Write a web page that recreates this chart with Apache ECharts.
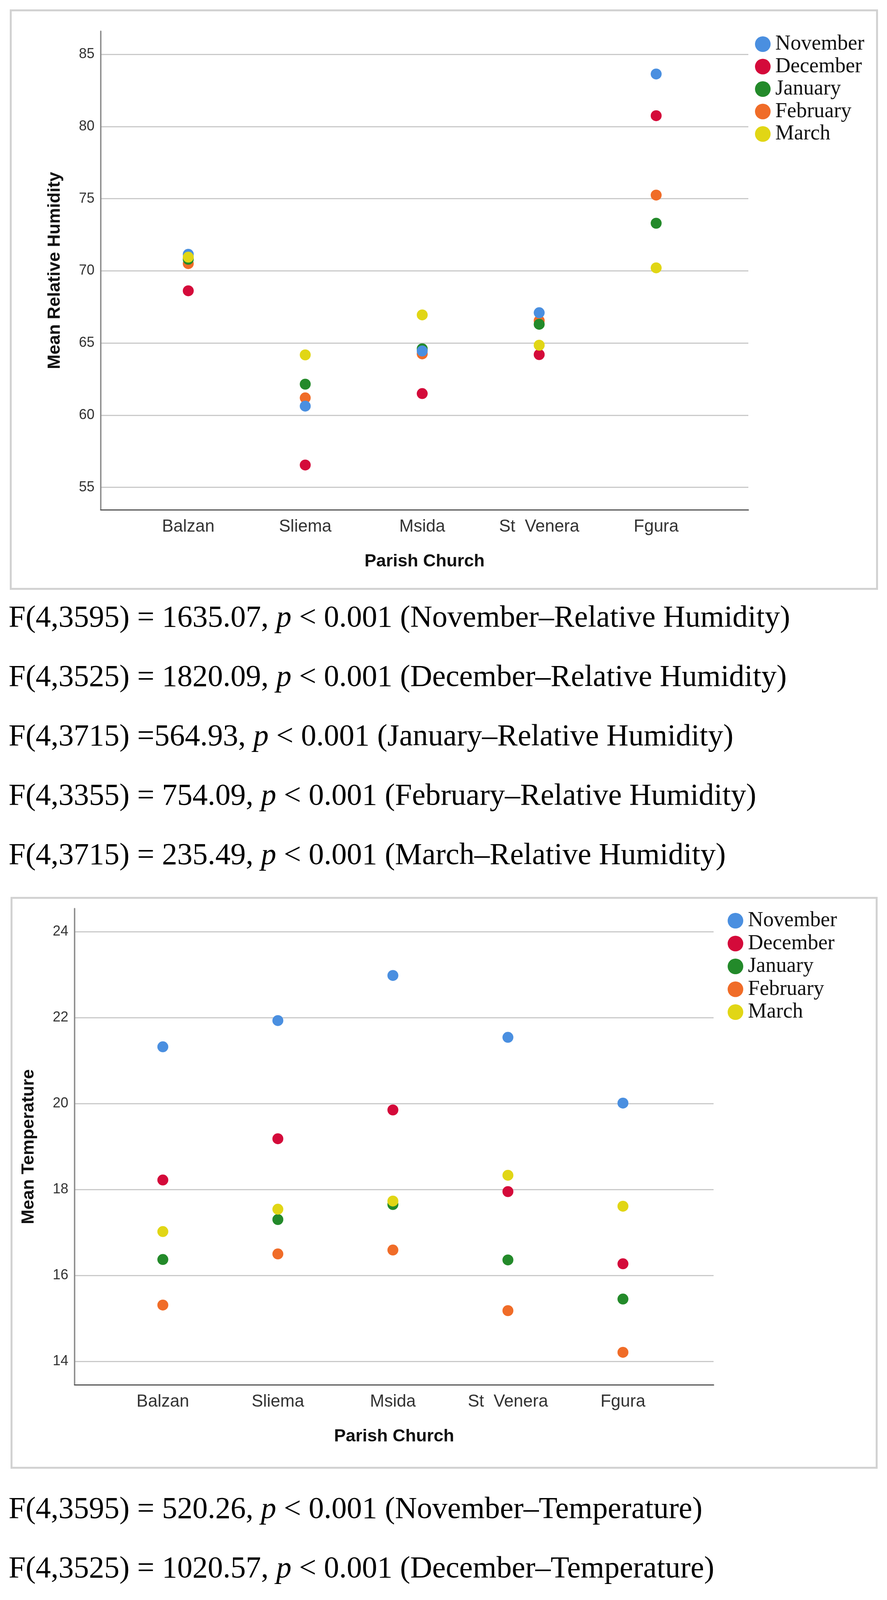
<!DOCTYPE html>
<html>
<head>
<meta charset="utf-8">
<script src="https://cdn.jsdelivr.net/npm/echarts@6/dist/echarts.min.js"></script>
<style>
  html, body { margin: 0; padding: 0; background: #ffffff; }
  body { width: 2271px; height: 4530px; position: relative; overflow: hidden; }
  #chart { position: absolute; left: 0; top: 0; width: 2271px; height: 4530px; }
  .stat { position: absolute; left: 22px; font-family: 'Liberation Serif', serif; font-size: 78px;
          line-height: 90px; color: #000; white-space: nowrap; }
</style>
</head>
<body>
<div id="chart"></div>
<div id="stats"></div>
<script>
// ---------- data ----------
const categories = ['Balzan', 'Sliema', 'Msida', 'St  Venera', 'Fgura'];
const months = ['November', 'December', 'January', 'February', 'March'];

// Mean Relative Humidity (Balzan, Sliema, Msida, St Venera, Fgura)
const humNovember = [71.15, 60.63, 64.45, 67.10, 83.64];
const humDecember = [68.62, 56.55, 61.50, 64.20, 80.75];
const humJanuary  = [70.80, 62.15, 64.60, 66.30, 73.30];
const humFebruary = [70.50, 61.20, 64.25, 66.55, 75.25];
const humMarch    = [70.95, 64.18, 66.95, 64.85, 70.21];

// Mean Temperature (Balzan, Sliema, Msida, St Venera, Fgura)
const tempNovember = [21.32, 21.93, 22.98, 21.54, 20.01];
const tempDecember = [18.22, 19.18, 19.85, 17.95, 16.27];
const tempJanuary  = [16.37, 17.30, 17.65, 16.36, 15.45];
const tempFebruary = [15.31, 16.50, 16.59, 15.18, 14.21];
const tempMarch    = [17.02, 17.54, 17.73, 18.33, 17.61];

const humTicks  = [55, 60, 65, 70, 75, 80, 85];
const tempTicks = [14, 16, 18, 20, 22, 24];

const humStats = [
  'F(4,3595) = 1635.07, {p} < 0.001 (November\u2013Relative Humidity)',
  'F(4,3525) = 1820.09, {p} < 0.001 (December\u2013Relative Humidity)',
  'F(4,3715) =564.93, {p} < 0.001 (January\u2013Relative Humidity)',
  'F(4,3355) = 754.09, {p} < 0.001 (February\u2013Relative Humidity)',
  'F(4,3715) = 235.49, {p} < 0.001 (March\u2013Relative Humidity)'
];
const tempStats = [
  'F(4,3595) = 520.26, {p} < 0.001 (November\u2013Temperature)',
  'F(4,3525) = 1020.57, {p} < 0.001 (December\u2013Temperature)',
  'F(4,3715) = 686.27, {p} < 0.001 (January\u2013Temperature)',
  'F(4,3355) = 709.03, {p} < 0.001 (February\u2013Temperature)',
  'F(4,3715) = 109.93, {p} < 0.001 (March\u2013Temperature)'
];

// ---------- styling ----------
const monthColors = {
  November: '#4a8fe0', December: '#d40a3a', January: '#238a2a',
  February: '#f06c28', March: '#e1d615'
};
const drawOrder = ['December', 'February', 'January', 'November', 'March'];
const humByMonth = { November: humNovember, December: humDecember, January: humJanuary, February: humFebruary, March: humMarch };
const tempByMonth = { November: tempNovember, December: tempDecember, January: tempJanuary, February: tempFebruary, March: tempMarch };

const sans = 'Liberation Sans, Arial, sans-serif';
const serif = 'Liberation Serif, serif';

function makeSeries(gridIdx, byMonth) {
  return drawOrder.map(m => ({
    type: 'scatter', name: m, xAxisIndex: gridIdx, yAxisIndex: gridIdx,
    symbol: 'circle', symbolSize: 28,
    itemStyle: { color: monthColors[m], opacity: 1 },
    emphasis: { disabled: true },
    data: byMonth[m].map((v, i) => [i, v])
  }));
}

function makeXAxis(gridIdx, min, max) {
  return {
    type: 'value', gridIndex: gridIdx, min: min, max: max,
    axisLine: { show: true, onZero: false, lineStyle: { color: '#555', width: 3 } },
    axisTick: { show: false },
    splitLine: { show: false },
    axisLabel: {
      customValues: [0, 1, 2, 3, 4],
      formatter: v => categories[Math.round(v)],
      fontFamily: sans, fontSize: 44, color: '#333', margin: 22
    },
    name: 'Parish Church', nameLocation: 'middle', nameGap: 110,
    nameTextStyle: { fontFamily: sans, fontWeight: 'bold', fontSize: 45, color: '#111' }
  };
}

function makeYAxis(gridIdx, min, max, ticks, title) {
  return {
    type: 'value', gridIndex: gridIdx, min: min, max: max,
    axisLine: { show: true, onZero: false, lineStyle: { color: '#8a8a8a', width: 3.5 } },
    axisTick: { show: false, customValues: ticks },
    splitLine: { show: true, lineStyle: { color: '#cacaca', width: 3 } },
    axisLabel: { customValues: ticks, fontFamily: sans, fontSize: 36, color: '#333', margin: 16 },
    name: title, nameLocation: 'middle', nameRotate: 90, nameGap: 95,
    nameTextStyle: { fontFamily: sans, fontWeight: 'bold', fontSize: 45, color: '#111' }
  };
}

function makeLegend(left, top, gap) {
  return {
    data: months, left: left, top: top, orient: 'vertical', padding: 0,
    icon: 'circle', itemWidth: 40, itemHeight: 40, itemGap: gap,
    selectedMode: false,
    textStyle: { fontFamily: serif, fontSize: 54, color: '#111', padding: [0, 0, 0, 7] }
  };
}

const chart = echarts.init(document.getElementById('chart'), null, { renderer: 'canvas' });
chart.setOption({
  animation: false,
  backgroundColor: '#ffffff',
  grid: [
    { left: 258, top: 80, width: 1658, height: 1225 },
    { left: 191, top: 2326, width: 1636, height: 1219 }
  ],
  xAxis: [
    makeXAxis(0, -0.748, 4.788),
    makeXAxis(1, -0.767, 4.788)
  ],
  yAxis: [
    makeYAxis(0, 53.45, 86.6, humTicks, 'Mean Relative Humidity'),
    makeYAxis(1, 13.455, 24.536, tempTicks, 'Mean Temperature')
  ],
  legend: [
    makeLegend(1933, 86, 3.5),
    makeLegend(1863, 2330, 4.5)
  ],
  graphic: [
    { type: 'rect', silent: true, z: -1, shape: { x: 27.5, y: 26.5, width: 2218, height: 1481 },
      style: { fill: 'none', stroke: '#d2d2d2', lineWidth: 5 } },
    { type: 'rect', silent: true, z: -1, shape: { x: 29.5, y: 2298.5, width: 2215, height: 1459 },
      style: { fill: 'none', stroke: '#d2d2d2', lineWidth: 5 } }
  ],
  series: makeSeries(0, humByMonth).concat(makeSeries(1, tempByMonth))
});

// ---------- statistics lines ----------
const statsBox = document.getElementById('stats');
function addLines(lines, firstCenter, step) {
  lines.forEach((txt, k) => {
    const d = document.createElement('div');
    d.className = 'stat';
    d.style.top = (firstCenter + k * step - 45) + 'px';
    d.innerHTML = txt.replace('{p}', '<i>p</i>');
    statsBox.appendChild(d);
  });
}
addLines(humStats, 1578, 152);
addLines(tempStats, 3860, 152);
</script>
</body>
</html>
